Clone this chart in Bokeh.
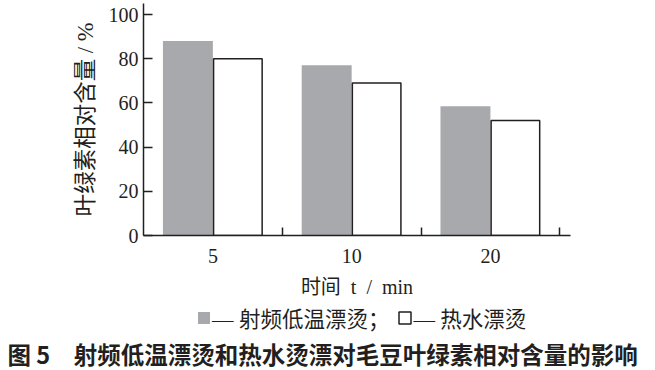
from bokeh.plotting import figure
from bokeh.layouts import column
from bokeh.models import Range1d, FixedTicker, ColumnDataSource, Legend, LegendItem, Title
from bokeh.embed import file_html
from bokeh.resources import INLINE
import numpy as np

# ---- data ----
times = ["5", "10", "20"]
rf_low_temp = [88.0, 77.0, 58.5]      # 射频低温漂烫
hot_water = [80.0, 69.0, 52.0]        # 热水漂烫
y_ticks = [0, 20, 40, 60, 80, 100]
series_labels = ["— 射频低温漂烫；", "— 热水漂烫"]
x_title = "时间\u2002t\u2002/\u2002min"
y_title = "叶绿素相对含量 / %"
caption = "图 5\u3000射频低温漂烫和热水烫漂对毛豆叶绿素相对含量的影响"

SERIF_CJK = "'Liberation Serif', 'Noto Sans CJK SC'"
CJK = "'Noto Sans CJK SC'"
TXT = "#231f20"
GREY = "#a7a9ac"

centers = np.arange(len(times)) + 0.5
src = ColumnDataSource(dict(
    xg=centers - 0.18, xw=centers + 0.18,
    rf=rf_low_temp, hw=hot_water,
))

bar_rf = dict(fill_color=GREY, line_color=None)
bar_hw = dict(fill_color="white", line_color=TXT, line_width=1.5)

# ---------------- main chart ----------------
p = figure(width=655, height=300, output_backend="svg", toolbar_location=None,
           x_range=Range1d(0, 3.077), y_range=Range1d(0, 105),
           min_border_left=143, min_border_right=85, min_border_top=3,
           min_border_bottom=63)
p.outline_line_color = None
p.xgrid.visible = False
p.ygrid.visible = False
p.background_fill_color = "white"

p.vbar(x="xg", top="rf", width=0.36, bottom=0, source=src, **bar_rf)
p.vbar(x="xw", top="hw", width=0.35, bottom=0, source=src, **bar_hw)

# x axis
xa = p.xaxis[0]
xa.ticker = FixedTicker(ticks=list(centers), minor_ticks=[1, 2, 3])
xa.major_label_overrides = {float(c): t for c, t in zip(centers, times)}
xa.major_tick_in = 0
xa.major_tick_out = 0
xa.minor_tick_in = 8
xa.minor_tick_out = 0
xa.minor_tick_line_color = TXT
xa.minor_tick_line_width = 1.5
xa.axis_line_color = TXT
xa.axis_line_width = 1.5
xa.major_label_text_font = SERIF_CJK
xa.major_label_text_font_size = "20px"
xa.major_label_text_color = TXT
xa.major_label_standoff = 13
xa.axis_label = x_title
xa.axis_label_text_font = SERIF_CJK
xa.axis_label_text_font_size = "20px"
xa.axis_label_text_font_style = "normal"
xa.axis_label_text_color = TXT
xa.axis_label_standoff = 10

# y axis
ya = p.yaxis[0]
ya.ticker = FixedTicker(ticks=y_ticks)
ya.minor_tick_line_color = None
ya.major_tick_in = 9
ya.major_tick_out = 0
ya.major_tick_line_color = TXT
ya.major_tick_line_width = 1.5
ya.axis_line_color = TXT
ya.axis_line_width = 1.5
ya.major_label_text_font = SERIF_CJK
ya.major_label_text_font_size = "20px"
ya.major_label_text_color = TXT
ya.major_label_standoff = 5
ya.axis_label = y_title
ya.axis_label_text_font = SERIF_CJK
ya.axis_label_text_font_size = "22.5px"
ya.axis_label_text_font_style = "normal"
ya.axis_label_text_color = TXT
ya.axis_label_standoff = 8

# ---------------- legend + caption strip ----------------
# The same bar renderers (hidden) serve as the legend's swatches.
p2 = figure(width=655, height=70, output_backend="svg", toolbar_location=None,
            x_range=Range1d(0, 3.077), y_range=Range1d(1000, 1001),
            min_border=0, x_axis_type=None, y_axis_type=None)
p2.grid.visible = False
p2.outline_line_color = None
p2.background_fill_color = "white"

k_rf = p2.vbar(x="xg", top="rf", width=0.36, bottom=0, source=src, **bar_rf)
k_hw = p2.vbar(x="xw", top="hw", width=0.35, bottom=0, source=src, **bar_hw)
k_rf.visible = False
k_hw.visible = False
legend = Legend(items=[LegendItem(label=series_labels[0], renderers=[k_rf]),
                       LegendItem(label=series_labels[1], renderers=[k_hw])],
                orientation="horizontal", location=(53, 1),
                glyph_width=15, glyph_height=15, label_standoff=1, spacing=8,
                padding=0, margin=0, border_line_color=None,
                background_fill_alpha=0, label_height=20,
                label_text_font=SERIF_CJK, label_text_font_size="21.5px",
                label_text_color=TXT)
p2.add_layout(legend)

p2.add_layout(Title(text=caption, align="left", offset=-136, standoff=0,
                    text_font=CJK, text_font_size="23.5px", text_font_style="bold",
                    text_color=TXT), "below")

open("out.html", "w").write(file_html(column(p, p2, spacing=0), INLINE))
